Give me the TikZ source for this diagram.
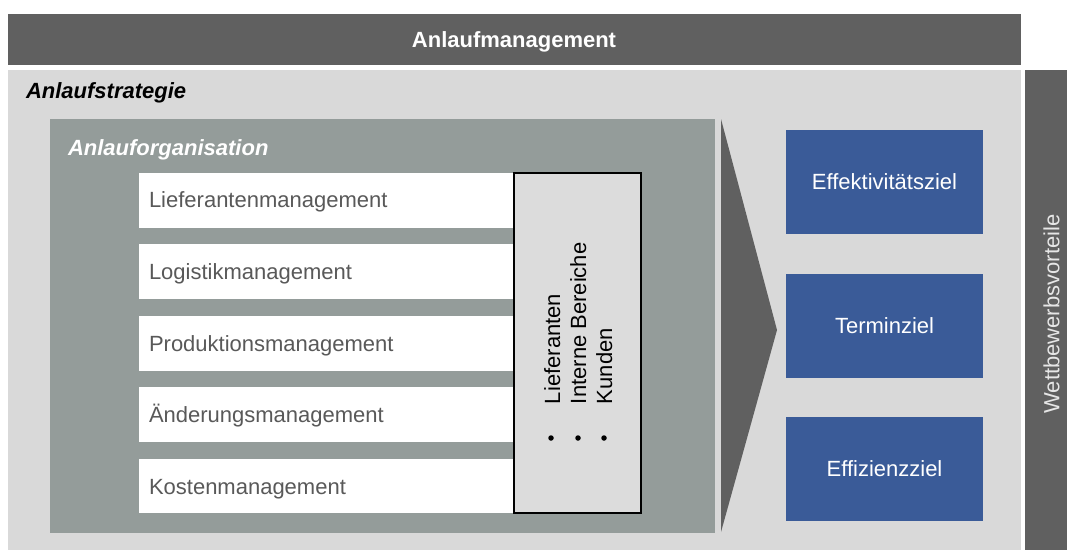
\documentclass[tikz,border=0pt]{standalone}
\usepackage{fontspec}
\setmainfont{Liberation Sans}
\definecolor{bardark}{HTML}{606060}
\definecolor{strategy}{HTML}{D9D9D9}
\definecolor{orggray}{HTML}{949C9A}
\definecolor{goalblue}{HTML}{3A5B98}
\definecolor{partnerfill}{HTML}{DCDCDC}
\definecolor{mgmttext}{HTML}{595959}
\definecolor{sidetext}{HTML}{E6E6E6}
\begin{document}
\begin{tikzpicture}[x=1pt,y=-1pt,
  every node/.style={inner sep=0pt,outer sep=0pt},
  panel/.style={anchor=north west,draw=none,rectangle},
  txt/.style={font=\fontsize{22}{26}\selectfont},
  mgmtbox/.style={panel,fill=white,minimum width=375pt,minimum height=55pt},
  mgmtlabel/.style={txt,text=mgmttext,anchor=base west},
  goalbox/.style={panel,fill=goalblue,minimum width=197pt,minimum height=104pt},
  goallabel/.style={txt,text=white},
  partnerlabel/.style={txt,text=black,rotate=90,anchor=base west},
  bulletdot/.style={circle,fill=black,minimum size=5.5pt}
]
\useasboundingbox (0,0) rectangle (1067,550);
\fill[white] (0,0) rectangle (1067,550);

% top bar
\node[panel,fill=bardark,minimum width=1013pt,minimum height=51pt] (top) at (8,14) {};
\node[txt,font=\fontsize{22}{26}\selectfont\bfseries,text=white,anchor=base] (toplabel) at (514,47) {Anlaufmanagement};

% strategy panel
\node[panel,fill=strategy,minimum width=1013pt,minimum height=480pt] (strat) at (8,70) {};
\node[txt,font=\fontsize{22}{26}\selectfont\bfseries\itshape,text=black,anchor=base west] (stratlabel) at (26,98) {Anlaufstrategie};

% side bar
\node[panel,fill=bardark,minimum width=43pt,minimum height=480pt] (side) at (1025,70) {};
\node[txt,text=sidetext,rotate=90] (sidelabel) at (1051.5,314) {Wettbewerbsvorteile};

% organisation panel
\node[panel,fill=orggray,minimum width=665pt,minimum height=414pt] (org) at (50,119) {};
\node[txt,font=\fontsize{22}{26}\selectfont\bfseries\itshape,text=white,anchor=base west] (orglabel) at (68,155) {Anlauforganisation};

% management boxes
\node[mgmtbox] (m1) at (139,173) {};
\node[mgmtbox] (m2) at (139,244) {};
\node[mgmtbox] (m3) at (139,316) {};
\node[mgmtbox] (m4) at (139,387) {};
\node[mgmtbox,minimum height=54pt] (m5) at (139,459) {};
\node[mgmtlabel] (l1) at (149,207) {Lieferantenmanagement};
\node[mgmtlabel] (l2) at (149,279) {Logistikmanagement};
\node[mgmtlabel] (l3) at (149,351) {Produktionsmanagement};
\node[mgmtlabel] (l4) at (149,422) {Änderungsmanagement};
\node[mgmtlabel] (l5) at (149,494) {Kostenmanagement};

% partner box
\draw[line width=2pt,fill=partnerfill] (514,173) rectangle (641,513);
\node[partnerlabel] (p1) at (560,404) {Lieferanten};
\node[partnerlabel] (p2) at (586,404) {Interne Bereiche};
\node[partnerlabel] (p3) at (612,404) {Kunden};
\node[bulletdot] (b1) at (551,438) {};
\node[bulletdot] (b2) at (578,438) {};
\node[bulletdot] (b3) at (604,438) {};

% arrow
\fill[bardark] (721,119) -- (777,330) -- (721,532) -- cycle;

% goal boxes
\node[goalbox] (g1) at (786,130) {};
\node[goalbox] (g2) at (786,274) {};
\node[goalbox] (g3) at (786,417) {};
\node[goallabel] at (g1.center) {Effektivitätsziel};
\node[goallabel] at (g2.center) {Terminziel};
\node[goallabel] at (g3.center) {Effizienzziel};
\end{tikzpicture}
\end{document}
